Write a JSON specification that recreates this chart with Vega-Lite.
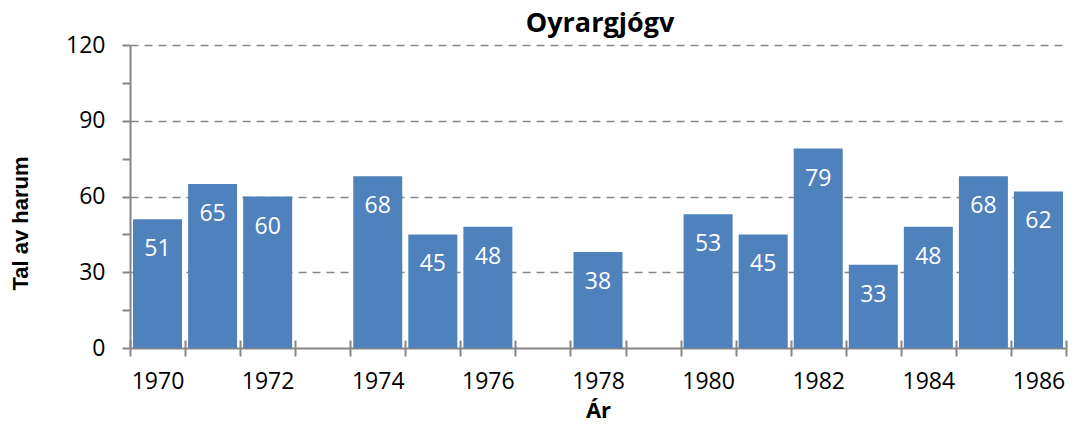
{
  "$schema": "https://vega.github.io/schema/vega-lite/v6.json",
  "width": 936,
  "height": 303,
  "autosize": {"type": "none"},
  "padding": {"left": 130, "top": 45, "right": 9, "bottom": 80},
  "background": "white",
  "title": {"text": "Oyrargjógv", "font": "Open Sans", "fontSize": 27, "fontWeight": "bold", "color": "black", "anchor": "middle", "frame": "group", "dx": 2, "dy": 8},
  "config": {"view": {"stroke": null}},
  "data": {"values": [
    {"year": 1970, "n": 51},
    {"year": 1971, "n": 65},
    {"year": 1972, "n": 60},
    {"year": 1974, "n": 68},
    {"year": 1975, "n": 45},
    {"year": 1976, "n": 48},
    {"year": 1978, "n": 38},
    {"year": 1980, "n": 53},
    {"year": 1981, "n": 45},
    {"year": 1982, "n": 79},
    {"year": 1983, "n": 33},
    {"year": 1984, "n": 48},
    {"year": 1985, "n": 68},
    {"year": 1986, "n": 62}
  ]},
  "encoding": {
    "y": {
      "field": "n", "type": "quantitative",
      "scale": {"domain": [0, 120], "nice": false, "padding": 0},
      "axis": {
        "values": [0, 15, 30, 45, 60, 75, 90, 105, 120],
        "labelExpr": "datum.value % 30 == 0 ? datum.label : ''",
        "grid": true,
        "gridDash": [8, 6],
        "gridColor": "#868686",
        "gridWidth": 1.5,
        "gridOpacity": {"condition": {"test": "datum.value % 30 == 0 && datum.value > 0", "value": 1}, "value": 0},
        "domainColor": "#868686", "domainWidth": 2,
        "tickColor": "#868686", "tickWidth": 2, "tickSize": 8,
        "labelFont": "Open Sans", "labelFontSize": 23, "labelColor": "black", "labelPadding": 17,
        "title": "Tal av harum",
        "titleFont": "Liberation Sans", "titleFontSize": 22, "titleFontWeight": "bold", "titleColor": "black",
        "titleX": -98, "titleY": 178
      }
    }
  },
  "layer": [
    {
      "mark": {"type": "bar", "size": 49, "color": "#4F81BD"},
      "encoding": {
        "x": {
          "field": "year", "type": "quantitative",
          "scale": {"domain": [1969.5, 1986.5], "nice": false, "zero": false, "padding": 0},
          "axis": {
            "orient": "bottom",
            "values": [1969.5, 1970.5, 1971.5, 1972.5, 1973.5, 1974.5, 1975.5, 1976.5, 1977.5, 1978.5, 1979.5, 1980.5, 1981.5, 1982.5, 1983.5, 1984.5, 1985.5, 1986.5],
            "labelExpr": "((datum.value + 0.5) % 2 == 0 && datum.value < 1986) ? ('' + (datum.value + 0.5)) : ''",
            "labelOffset": 27.5,
            "labelOverlap": false,
            "labelBound": false,
            "labelFlush": false,
            "grid": false,
            "domainColor": "#868686", "domainWidth": 2,
            "tickColor": "#868686", "tickWidth": 2, "tickSize": 8,
            "labelFont": "Open Sans", "labelFontSize": 23, "labelColor": "black", "labelPadding": 14,
            "title": "Ár",
            "titleFont": "Open Sans", "titleFontSize": 22, "titleFontWeight": "bold", "titleColor": "black",
            "titlePadding": 7
          }
        }
      }
    },
    {
      "mark": {"type": "text", "color": "white", "baseline": "middle", "dy": 30, "font": "Open Sans", "fontSize": 23},
      "encoding": {
        "x": {
          "field": "year", "type": "quantitative",
          "axis": {
            "orient": "bottom",
            "values": [1969.5, 1970.5, 1971.5, 1972.5, 1973.5, 1974.5, 1975.5, 1976.5, 1977.5, 1978.5, 1979.5, 1980.5, 1981.5, 1982.5, 1983.5, 1984.5, 1985.5, 1986.5],
            "labels": false,
            "domain": false,
            "grid": false,
            "tickColor": "#868686", "tickWidth": 2, "tickSize": -8,
            "title": null
          }
        },
        "text": {"field": "n", "type": "quantitative"}
      }
    }
  ],
  "resolve": {"axis": {"x": "independent"}}
}
